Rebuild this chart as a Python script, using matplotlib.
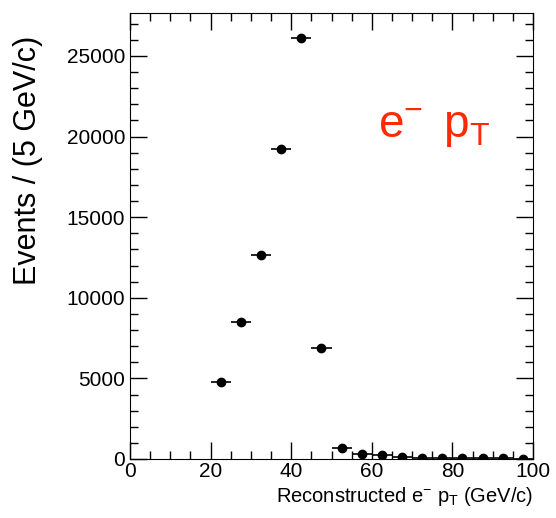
import numpy as np
import matplotlib
matplotlib.use('Agg')
import matplotlib.pyplot as plt
from matplotlib.ticker import MultipleLocator

plt.rcParams['font.family'] = ['Liberation Sans', 'DejaVu Sans']
plt.rcParams['mathtext.fontset'] = 'custom'
plt.rcParams['mathtext.rm'] = 'Liberation Sans'
plt.rcParams['mathtext.it'] = 'Liberation Sans'

# bin centres (GeV/c) and counts per 5 GeV/c
pt_centers = [22.5, 27.5, 32.5, 37.5, 42.5, 47.5, 52.5, 57.5, 62.5, 67.5,
              72.5, 77.5, 82.5, 87.5, 92.5, 97.5]
events = [4800, 8500, 12650, 19250, 26100, 6900, 700, 300, 230, 150,
          90, 80, 70, 60, 40, 30]
bin_half_width = 2.5

fig = plt.figure(figsize=(5.56, 5.18), dpi=100)
ax = fig.add_axes([130/556, 1 - 459/518, (533-130)/556, (459-13)/518])

ax.errorbar(pt_centers, events, xerr=bin_half_width, yerr=np.sqrt(events),
            fmt='o', color='black', ms=6, elinewidth=1.2, capsize=0)

ax.set_xlim(0, 100)
ax.set_ylim(0, 27660)
ax.xaxis.set_major_locator(MultipleLocator(20))
ax.xaxis.set_minor_locator(MultipleLocator(5))
ax.yaxis.set_major_locator(MultipleLocator(5000))
ax.yaxis.set_minor_locator(MultipleLocator(1000))
ax.tick_params(which='both', direction='in', top=True, right=True,
               labelsize=15, width=1)
ax.tick_params(which='major', length=12)
ax.tick_params(which='minor', length=6)
ax.tick_params(axis='x', pad=2)

ax.set_ylabel('Events / (5 GeV/c)', fontsize=22)
ax.yaxis.set_label_coords(-0.215, 0.67)
ax.set_xlabel(r'Reconstructed e$^{\mathregular{-}}$ p$_{\mathregular{T}}$ (GeV/c)',
              fontsize=14.5, loc='right', labelpad=3)

ax.text(0.615, 0.72, r'e$^{\mathregular{-}}\,$ p$_{\mathregular{T}}$',
        transform=ax.transAxes, color='#ff2a00', fontsize=33)

fig.savefig('out.png', dpi=100)
